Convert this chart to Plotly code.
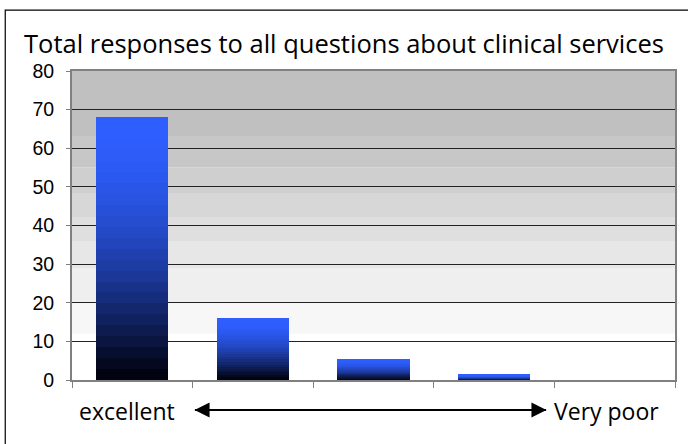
import math
import plotly.graph_objects as go

# ---- data ----
categories = ["excellent", "good", "fair", "poor", "Very poor"]
responses = [68, 16, 5.4, 1.3, 0]
y_ticks = [0, 10, 20, 30, 40, 50, 60, 70, 80]
title_text = "Total responses to all questions about clinical services"
left_label = "excellent"
right_label = "Very poor"

# ---- style ----
N_SLICES = 24
top_rgb = (47, 95, 255)
bands = [  # (low, high, colour) background gradient bands
    (0, 12, "#ffffff"), (12, 20, "#f7f7f7"), (20, 29, "#efefef"),
    (29, 36, "#e7e7e7"), (36, 42, "#dfdfdf"), (42, 48.4, "#d7d7d7"),
    (48.4, 55, "#cfcfcf"), (55, 63.2, "#c7c7c7"), (63.2, 80, "#c0c0c0"),
]

x_pos = list(range(len(categories)))
fig = go.Figure()
for i in range(N_SLICES):
    f = (i + 0.5) / N_SLICES
    g = math.sin(f * math.pi / 2)
    col = "rgb(%d,%d,%d)" % (int(top_rgb[0] * g), int(top_rgb[1] * g), int(top_rgb[2] * g + 8 * (1 - g)))
    fig.add_trace(go.Bar(
        x=x_pos, y=[v / N_SLICES for v in responses], width=0.6,
        marker=dict(color=col, line=dict(width=0)),
        showlegend=False, hoverinfo="skip", customdata=categories,
    ))

shapes = []
for lo, hi, c in bands:
    shapes.append(dict(type="rect", xref="paper", yref="y", x0=0, x1=1, y0=lo, y1=hi,
                       fillcolor=c, line=dict(width=0), layer="below"))
# outer chart frame
shapes.append(dict(type="rect", xref="paper", yref="paper", x0=-0.1107, x1=1.05,
                   y0=-0.25, y1=1.197, line=dict(color="black", width=1.2),
                   fillcolor="rgba(0,0,0,0)", layer="above"))

label_font = dict(family="Open Sans", size=23, color="black")
annotations = [
    dict(text=left_label, xref="paper", yref="paper", x=0.0909, y=-0.1, showarrow=False,
         font=label_font, xanchor="center", yanchor="middle"),
    dict(text=right_label, xref="paper", yref="paper", x=0.886, y=-0.1, showarrow=False,
         font=label_font, xanchor="center", yanchor="middle"),
    dict(text="", xref="paper", yref="paper", x=0.2033, y=-0.097, ax=353, ay=0,
         showarrow=True, arrowhead=2, arrowsize=1.5, arrowwidth=2, arrowcolor="black"),
    dict(text="", xref="paper", yref="paper", x=0.7868, y=-0.097, ax=-353, ay=0,
         showarrow=True, arrowhead=2, arrowsize=1.5, arrowwidth=2, arrowcolor="black"),
]

fig.update_layout(
    width=688, height=444,
    margin=dict(l=72, r=11, t=71, b=64),
    paper_bgcolor="white", plot_bgcolor="white",
    barmode="stack", bargap=0,
    title=dict(text=title_text, x=0.5, xref="container", xanchor="center", y=0.9, yref="container",
               yanchor="middle", font=dict(family="Open Sans", size=25.5, color="black")),
    shapes=shapes, annotations=annotations,
    xaxis=dict(range=[-0.5, 4.5], tickvals=[-0.5, 0.5, 1.5, 2.5, 3.5, 4.5], showticklabels=False,
               ticks="outside", ticklen=6, tickcolor="#808080", tickwidth=1,
               showgrid=False, zeroline=False, showline=True, linecolor="#808080", linewidth=2,
               mirror=True, fixedrange=True),
    yaxis=dict(range=[0, 80], tickvals=y_ticks, ticks="outside", ticklen=4, tickcolor="#808080",
               tickwidth=1, showgrid=True, gridcolor="#222222", gridwidth=1, zeroline=False,
               showline=True, linecolor="#808080", linewidth=2, mirror=True, ticklabelstandoff=8,
               tickfont=dict(family="Liberation Sans", size=19.5, color="black"), fixedrange=True),
)

fig.write_html("out.html")
